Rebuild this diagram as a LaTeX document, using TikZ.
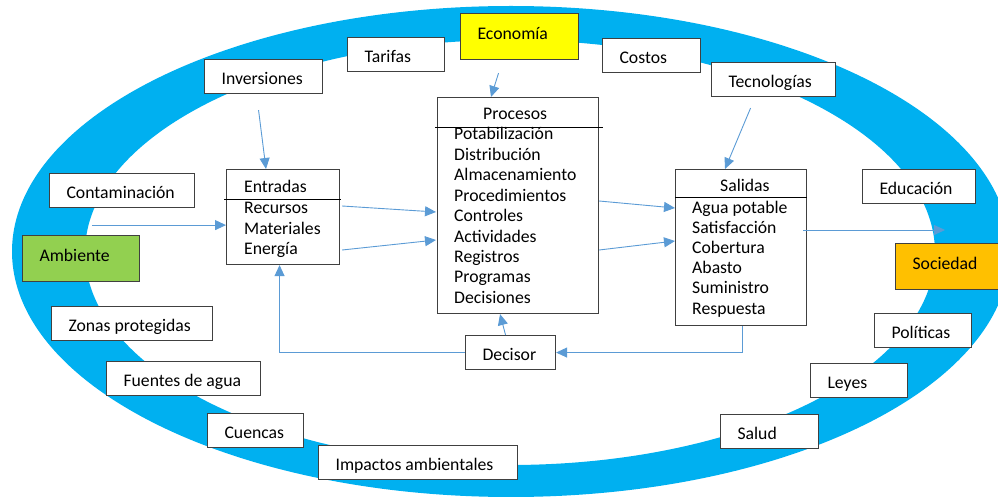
\documentclass[tikz,border=0pt]{standalone}
\usepackage{fontspec}
\setmainfont{Carlito}
\usepackage{tikz}
\usetikzlibrary{arrows.meta,calc}
\definecolor{ringblue}{HTML}{00B0F0}
\definecolor{arrowblue}{HTML}{5B9BD5}
\definecolor{edgegray}{HTML}{404040}
\definecolor{econyellow}{HTML}{FFFF00}
\definecolor{ambgreen}{HTML}{92D050}
\definecolor{socorange}{HTML}{FFC000}

\begin{document}
\begin{tikzpicture}[x=1pt,y=-1pt,
  every node/.style={font=\fontsize{17.7}{20.4}\selectfont},
  tag/.style={draw=edgegray,line width=1.1pt,fill=white,anchor=north west,inner xsep=17pt,
              inner ysep=0pt,minimum height=34pt,text height=16pt,text depth=1pt,align=flush left},
  key/.style={tag,minimum height=46pt,text height=12pt,text depth=7pt},
  list/.style={draw=edgegray,line width=1.1pt,fill=white,anchor=north west,inner sep=0pt},
  item/.style={anchor=base west,inner sep=0pt},
  bar/.style={line width=0.9pt,draw=black},
  arr/.style={-{Triangle[length=11pt,width=10pt]},line width=0.9pt,draw=arrowblue}
]
  \useasboundingbox (0,0) rectangle (998,497);
  \fill[ringblue,even odd rule] (511,251.5) ellipse [x radius=499,y radius=245.5]
    (510,252.5) ellipse [x radius=425,y radius=212.5];

  \node[tag,text width=63pt] (tar) at (347,37) {Tarifas};
  \node[tag,text width=84pt] (inv) at (204,59) {Inversiones};
  \node[key,fill=econyellow,text width=84pt] (eco) at (460,13) {Economía};
  \node[tag,text width=64pt] (cos) at (602,38) {Costos};
  \node[tag,text width=90pt] (tec) at (711,62) {Tecnologías};
  \node[tag,text width=111pt] (con) at (49,173) {Contaminación};
  \node[key,fill=ambgreen,text width=83pt] (amb) at (22,235) {Ambiente};
  \node[tag,text width=79pt] (edu) at (862,169) {Educación};
  \node[key,fill=socorange,text width=83pt] (soc) at (895,243) {Sociedad};
  \node[tag,text width=63pt] (pol) at (874,313) {Políticas};
  \node[tag,text width=63pt] (ley) at (810,363) {Leyes};
  \node[tag,text width=64pt] (salud) at (720,414) {Salud};
  \node[tag,text width=127pt] (zon) at (51,306) {Zonas~protegidas};
  \node[tag,text width=120pt] (fue) at (106,361) {Fuentes~de~agua};
  \node[tag,text width=62pt] (cue) at (207,413) {Cuencas};
  \node[tag,text width=165pt] (imp) at (318,445) {Impactos~ambientales};
  \node[tag,text width=56pt] (dec) at (465,335) {Decisor};

  \node[list,minimum width=113pt,minimum height=95pt] (ent) at (226,169) {};
  \node[list,minimum width=161pt,minimum height=216pt] (proc) at (437,97) {};
  \node[list,minimum width=131pt,minimum height=156pt] (sal) at (675,169) {};
  \draw[bar] ($(ent.north west)+(-2,30)$) -- ($(ent.north east)+(1,30)$);
  \draw[bar] ($(proc.north west)+(-2,30)$) -- ($(proc.north east)+(4,30)$);
  \draw[bar] ($(sal.north west)+(0,28)$) -- ($(sal.north east)+(0,28)$);
  \node[item] (enth) at (244,193) {Entradas};
  \node[item] (proch) at (483,120) {Procesos};
  \node[item] (salh) at (720,192) {Salidas};
  \foreach \t [count=\i from 0] in {Recursos,Materiales,Energía}
    \node[item] (e\i) at (244,{214+20.4*\i}) {\t};
  \foreach \t [count=\i from 0] in {Potabilización,Distribución,Almacenamiento,Procedimientos,
      Controles,Actividades,Registros,Programas,Decisiones}
    \node[item] (p\i) at (454,{140+20.4*\i}) {\t};
  \foreach \t [count=\i from 0] in {Agua potable,Satisfacción,Cobertura,Abasto,Suministro,Respuesta}
    \node[item] (s\i) at (692,{213+20.2*\i}) {\t};

  \coordinate (invout) at ($(inv.south)+(-5,16)$);
  \coordinate (conout) at ($(con.south west)+(43,17)$);
  \coordinate (ecoout) at ($(eco.south)+(-21,13)$);
  \coordinate (tecout) at ($(tec.south)+(-23,11)$);
  \coordinate (socin) at ($(soc.north west)+(50,-13)$);
  \draw[arr] (invout) -- ($(ent.north west)+(40,0)$);
  \draw[arr] (conout) -- (ent.west |- conout);
  \draw[arr] ($(ent.north east)+(2,37)$) -- ($(proc.north west)+(-1,115)$);
  \draw[arr] ($(ent.north east)+(2,81)$) -- ($(proc.north west)+(-1,143)$);
  \draw[arr] ($(proc.north east)+(0,104)$) -- ($(sal.north west)+(0,39)$);
  \draw[arr] ($(proc.north east)+(0,153)$) -- ($(sal.north west)+(0,72)$);
  \draw[arr] ($(sal.north east)+(-4,61)$) -- (socin);
  \draw[arr] (ecoout) -- ($(proc.north west)+(54,0)$);
  \draw[arr] (tecout) -- ($(sal.north west)+(50,0)$);
  \draw[arr] ($(dec.north)+(-5,0)$) -- ($(proc.south)+(-18,0)$);
  \draw[arr] ($(sal.south)+(1.5,0)$) |- (dec.east);
  \draw[arr] (dec.west) -| ($(ent.south)+(-3.5,0)$);
\end{tikzpicture}
\end{document}
